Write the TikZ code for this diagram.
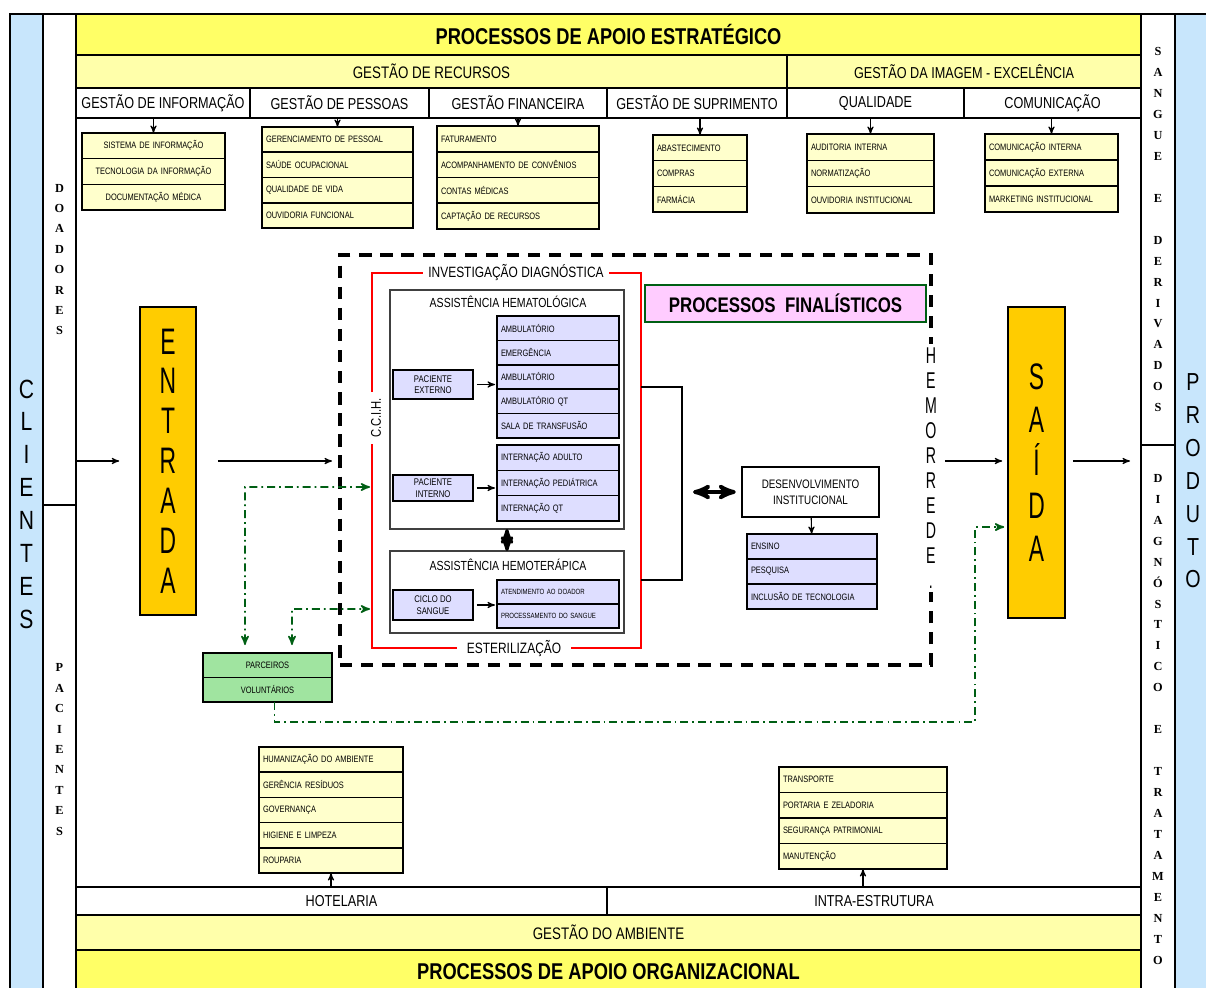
\documentclass[tikz,border=0pt]{standalone}
\usepackage{fontspec}
\setmainfont{Liberation Sans}
\newfontfamily\narrow{Liberation Sans}[FakeStretch=0.8]
\newfontfamily\tall{Liberation Sans}[FakeStretch=0.62]
\newfontfamily\serifb{Liberation Serif}
\usepackage{xcolor}
\usetikzlibrary{arrows}
\usetikzlibrary{positioning}

\definecolor{apoio}{RGB}{255,255,102}
\definecolor{gestao}{RGB}{255,255,170}
\definecolor{lista}{RGB}{255,255,204}
\definecolor{cliente}{RGB}{200,230,252}
\definecolor{laranja}{RGB}{255,204,0}
\definecolor{lilas}{RGB}{222,222,255}
\definecolor{verdeclaro}{RGB}{160,228,160}
\definecolor{rosa}{RGB}{255,204,255}
\definecolor{verdeesc}{RGB}{0,95,20}

\begin{document}
\begin{tikzpicture}[x=0.02cm,y=-0.02cm,>=stealth',semithick]
		\tikzstyle{faixa}=[draw=black,line width=0.9pt,outer sep=0pt,inner sep=0pt,text=black]
		\tikzstyle{lateral}=[draw=black,line width=0.9pt,outer sep=0pt,inner sep=0pt,align=center]
		\tikzstyle{vletra}=[font=\serifb\bfseries\fontsize{7}{11.6}\selectfont]
		\tikzstyle{vletrad}=[font=\serifb\bfseries\fontsize{7}{11.95}\selectfont]
		\tikzstyle{item}=[draw=black,line width=0.9pt,fill=lista,outer sep=0pt,inner xsep=0.08cm,inner ysep=0pt,align=left,font=\narrow\fontsize{5.3}{6.3}\selectfont]
		\tikzstyle{caixa}=[draw=black,line width=1.3pt,fill=lilas,outer sep=0pt,inner sep=0pt,align=center,font=\narrow\fontsize{5.5}{6.5}\selectfont]
		\tikzstyle{titulo}=[fill=white,inner xsep=0.1cm,inner ysep=1pt,font=\narrow\fontsize{8.5}{10}\selectfont]
		\tikzstyle{gline}=[draw=verdeesc,line width=0.9pt,dash pattern=on 4.5pt off 2.3pt on 1pt off 2.3pt]
		\tikzstyle{info}=[item,text width=2.70cm,minimum height=0.513cm,align=center]
		\tikzstyle{pessoa}=[item,text width=2.86cm,minimum height=0.505cm]
		\tikzstyle{financa}=[item,text width=3.08cm,minimum height=0.515cm]
		\tikzstyle{suprim}=[item,text width=1.72cm,minimum height=0.513cm]
		\tikzstyle{quali}=[item,text width=2.38cm,minimum height=0.527cm]
		\tikzstyle{comun}=[item,text width=2.50cm,minimum height=0.52cm]
		\tikzstyle{hemat}=[item,fill=lilas,text width=2.28cm,minimum height=0.488cm]
		\tikzstyle{intern}=[item,fill=lilas,text width=2.28cm,minimum height=0.507cm]
		\tikzstyle{hemot}=[item,fill=lilas,text width=2.28cm,minimum height=0.48cm,font=\narrow\fontsize{4.3}{5}\selectfont]
		\tikzstyle{desenv}=[item,fill=lilas,text width=2.44cm,minimum height=0.5cm]
		\tikzstyle{parc}=[item,fill=verdeclaro,text width=2.42cm,minimum height=0.49cm,align=center]
		\tikzstyle{hotel}=[item,text width=2.72cm,minimum height=0.504cm]
		\tikzstyle{infra}=[item,text width=3.20cm,minimum height=0.51cm]

		\useasboundingbox (0,0) rectangle (1206,987);
		\fill[white] (0,0) rectangle (1206,987);

		% clientes / produto
		\node[lateral,fill=cliente,minimum width=0.66cm,minimum height=19.6cm,font=\narrow\fontsize{15}{18.7}\selectfont] (clientes) at (26.5,504) {C\\L\\I\\E\\N\\T\\E\\S};
		\node[lateral,fill=white,minimum width=0.66cm,minimum height=9.82cm,vletra] (doadores) at (59.5,259.5) {D\\O\\A\\D\\O\\R\\E\\S};
		\node[lateral,fill=white,minimum width=0.66cm,minimum height=9.78cm,vletra] (pacientes) at (59.5,749.5) {P\\A\\C\\I\\E\\N\\T\\E\\S};
		\node[lateral,fill=white,minimum width=0.68cm,minimum height=8.62cm,vletrad] (sangue) at (1158,229.5) {S\\A\\N\\G\\U\\E\\ \\E\\ \\D\\E\\R\\I\\V\\A\\D\\O\\S};
		\node[lateral,fill=white,minimum width=0.68cm,minimum height=10.98cm,vletrad] (diagnostico) at (1158,719.5) {D\\I\\A\\G\\N\\Ó\\S\\T\\I\\C\\O\\ \\E\\ \\T\\R\\A\\T\\A\\M\\E\\N\\T\\O};
		\node[lateral,fill=cliente,minimum width=0.8cm,minimum height=19.6cm] (produto) at (1195,504) {};
		\node[align=center,inner sep=0pt,font=\narrow\fontsize{14}{18.7}\selectfont] (produtotxt) at (1193,481) {P\\R\\O\\D\\U\\T\\O};

		% apoio estrategico
		\node[faixa,fill=apoio] (estrategico) at (608.5,34.5) [minimum width=21.3cm,minimum height=0.82cm,font=\narrow\bfseries\fontsize{13}{15}\selectfont] {PROCESSOS DE APOIO ESTRATÉGICO};
		\node[faixa,fill=gestao] (recursos) at (431.5,71.5) [minimum width=14.22cm,minimum height=0.66cm,font=\narrow\fontsize{9.5}{11}\selectfont] {GESTÃO DE RECURSOS};
		\node[faixa,fill=gestao] (imagem) at (964,71.5) [minimum width=7.08cm,minimum height=0.66cm,font=\narrow\fontsize{9}{11}\selectfont] {GESTÃO DA IMAGEM - EXCELÊNCIA};
		\node[faixa,fill=white] (informacao) at (163,103) [minimum width=3.48cm,minimum height=0.6cm,font=\narrow\fontsize{9}{11}\selectfont] {GESTÃO DE INFORMAÇÃO};
		\node[faixa,fill=white] (pessoas) at (339.5,103) [minimum width=3.58cm,minimum height=0.6cm,font=\narrow\fontsize{9}{11}\selectfont] {GESTÃO DE PESSOAS};
		\node[faixa,fill=white] (financeira) at (518,103) [minimum width=3.56cm,minimum height=0.6cm,font=\narrow\fontsize{9}{11}\selectfont] {GESTÃO FINANCEIRA};
		\node[faixa,fill=white] (suprimento) at (697,103) [minimum width=3.60cm,minimum height=0.6cm,font=\narrow\fontsize{9}{11}\selectfont] {GESTÃO DE SUPRIMENTO};
		\node[faixa,fill=white] (qualidade) at (875.5,103) [minimum width=3.54cm,minimum height=0.6cm,font=\narrow\fontsize{9}{11}\selectfont] {QUALIDADE};
		\node[faixa,fill=white] (comunicacao) at (1052.5,103) [minimum width=3.54cm,minimum height=0.6cm,font=\narrow\fontsize{9}{11}\selectfont] {COMUNICAÇÃO};

		\node[info] (i1) at (82,133) [anchor=north west] {SISTEMA DE INFORMAÇÃO};
		\node[info] (i2)[below=0pt of i1] {TECNOLOGIA DA INFORMAÇÃO};
		\node[info] (i3)[below=0pt of i2] {DOCUMENTAÇÃO MÉDICA};
		\node[pessoa] (p1) at (262,127) [anchor=north west] {GERENCIAMENTO DE PESSOAL};
		\node[pessoa] (p2)[below=0pt of p1] {SAÚDE OCUPACIONAL};
		\node[pessoa] (p3)[below=0pt of p2] {QUALIDADE DE VIDA};
		\node[pessoa] (p4)[below=0pt of p3] {OUVIDORIA FUNCIONAL};
		\node[financa] (f1) at (437,126) [anchor=north west] {FATURAMENTO};
		\node[financa] (f2)[below=0pt of f1] {ACOMPANHAMENTO DE CONVÊNIOS};
		\node[financa] (f3)[below=0pt of f2] {CONTAS MÉDICAS};
		\node[financa] (f4)[below=0pt of f3] {CAPTAÇÃO DE RECURSOS};
		\node[suprim] (s1) at (653,135) [anchor=north west] {ABASTECIMENTO};
		\node[suprim] (s2)[below=0pt of s1] {COMPRAS};
		\node[suprim] (s3)[below=0pt of s2] {FARMÁCIA};
		\node[quali] (q1) at (807,134) [anchor=north west] {AUDITORIA INTERNA};
		\node[quali] (q2)[below=0pt of q1] {NORMATIZAÇÃO};
		\node[quali] (q3)[below=0pt of q2] {OUVIDORIA INSTITUCIONAL};
		\node[comun] (c1) at (985,134) [anchor=north west] {COMUNICAÇÃO INTERNA};
		\node[comun] (c2)[below=0pt of c1] {COMUNICAÇÃO EXTERNA};
		\node[comun] (c3)[below=0pt of c2] {MARKETING INSTITUCIONAL};

		% processos finalisticos
		\node[draw=black,line width=2.2pt,dash pattern=on 7pt off 5pt,minimum width=11.82cm,minimum height=8.2cm,outer sep=0pt] (finalistico) at (635.5,460) {};
		\node[fill=white,inner xsep=1pt,inner ysep=2pt,align=center,font=\tall\fontsize{13}{14.2}\selectfont] (hemorrede) at (finalistico.east |- 0,468) {H\\E\\M\\O\\R\\R\\E\\D\\E\\.};
		\node[draw=verdeesc,line width=1.2pt,fill=rosa,minimum width=5.62cm,minimum height=0.74cm,inner sep=0pt,font=\narrow\bfseries\fontsize{12}{14}\selectfont] (titulofin) at (785.5,303.5) {PROCESSOS\ \ FINALÍSTICOS};
		\node[draw=red,line width=1.2pt,minimum width=5.38cm,minimum height=7.5cm,outer sep=0pt] (ester) at (506.5,460.5) {};
		\node[titulo] (investig) at (516,273) {INVESTIGAÇÃO DIAGNÓSTICA};
		\node[titulo,inner xsep=0.2cm] (esteriliz) at (514,649) {ESTERILIZAÇÃO};
		\node[titulo,rotate=90,inner xsep=0.12cm,font=\narrow\fontsize{8}{10}\selectfont] (ccih) at (376,418) {C.C.I.H.};

		\node[draw=black!75,line width=1.4pt,minimum width=4.68cm,minimum height=4.78cm,outer sep=0pt] (hematologica) at (507,409.5) {};
		\node[font=\narrow\fontsize{7.5}{9}\selectfont,inner sep=1pt] (tithemat) at (508,302) {ASSISTÊNCIA HEMATOLÓGICA};
		\node[draw=black!75,line width=1.4pt,minimum width=4.68cm,minimum height=1.64cm,outer sep=0pt] (hemoterapica) at (507,592) {};
		\node[font=\narrow\fontsize{7.5}{9}\selectfont,inner sep=1pt] (tithemot) at (508,565) {ASSISTÊNCIA HEMOTERÁPICA};

		\node[caixa,minimum width=1.6cm,minimum height=0.58cm] (externo) at (433,384.5) {PACIENTE\\EXTERNO};
		\node[caixa,minimum width=1.6cm,minimum height=0.52cm] (interno) at (433,488) {PACIENTE\\INTERNO};
		\node[caixa,minimum width=1.6cm,minimum height=0.6cm] (ciclo) at (433,605) {CICLO DO\\SANGUE};

		\node[hemat] (a1) at (497,316) [anchor=north west] {AMBULATÓRIO};
		\node[hemat] (a2)[below=0pt of a1] {EMERGÊNCIA};
		\node[hemat] (a3)[below=0pt of a2] {AMBULATÓRIO};
		\node[hemat] (a4)[below=0pt of a3] {AMBULATÓRIO QT};
		\node[hemat] (a5)[below=0pt of a4] {SALA DE TRANSFUSÃO};
		\node[intern] (n1) at (497,445) [anchor=north west] {INTERNAÇÃO ADULTO};
		\node[intern] (n2)[below=0pt of n1] {INTERNAÇÃO PEDIÁTRICA};
		\node[intern] (n3)[below=0pt of n2] {INTERNAÇÃO QT};
		\node[hemot] (t1) at (497,580) [anchor=north west] {ATENDIMENTO AO DOADOR};
		\node[hemot] (t2)[below=0pt of t1] {PROCESSAMENTO DO SANGUE};

		\node[draw=black,line width=1.4pt,fill=white,minimum width=2.74cm,minimum height=1.0cm,inner sep=0pt,align=center,font=\narrow\fontsize{7}{9}\selectfont] (desenvolvimento) at (810.5,492) {DESENVOLVIMENTO\\INSTITUCIONAL};
		\node[desenv] (d1) at (747,534) [anchor=north west] {ENSINO};
		\node[desenv] (d2)[below=0pt of d1] {PESQUISA};
		\node[desenv] (d3)[below=0pt of d2] {INCLUSÃO DE TECNOLOGIA};

		% entrada e saida
		\node[draw=black,line width=0.9pt,fill=laranja,minimum width=1.12cm,minimum height=6.16cm,align=center,font=\tall\fontsize{21}{22.7}\selectfont] (entrada) at (168,461) {E\\N\\T\\R\\A\\D\\A};
		\node[draw=black,line width=0.9pt,fill=laranja,minimum width=1.14cm,minimum height=6.22cm,align=center,font=\tall\fontsize{21}{24.5}\selectfont] (saida) at (1036.5,462.5) {S\\A\\Í\\D\\A};

		\node[parc] (v1) at (203,653) [anchor=north west] {PARCEIROS};
		\node[parc] (v2)[below=0pt of v1] {VOLUNTÁRIOS};

		% apoio organizacional
		\node[hotel] (h1) at (259,747) [anchor=north west] {HUMANIZAÇÃO DO AMBIENTE};
		\node[hotel] (h2)[below=0pt of h1] {GERÊNCIA RESÍDUOS};
		\node[hotel] (h3)[below=0pt of h2] {GOVERNANÇA};
		\node[hotel] (h4)[below=0pt of h3] {HIGIENE E LIMPEZA};
		\node[hotel] (h5)[below=0pt of h4] {ROUPARIA};
		\node[infra] (e1) at (779,767) [anchor=north west] {TRANSPORTE};
		\node[infra] (e2)[below=0pt of e1] {PORTARIA E ZELADORIA};
		\node[infra] (e3)[below=0pt of e2] {SEGURANÇA PATRIMONIAL};
		\node[infra] (e4)[below=0pt of e3] {MANUTENÇÃO};

		\node[faixa,fill=white] (hotelaria) at (341.5,901) [minimum width=10.62cm,minimum height=0.56cm,font=\narrow\fontsize{9}{11}\selectfont] {HOTELARIA};
		\node[faixa,fill=white] (estrutura) at (874,901) [minimum width=10.68cm,minimum height=0.56cm,font=\narrow\fontsize{9}{11}\selectfont] {INTRA-ESTRUTURA};
		\node[faixa,fill=gestao] (ambiente) at (608.5,932.5) [minimum width=21.3cm,minimum height=0.7cm,font=\narrow\fontsize{9.5}{11}\selectfont] {GESTÃO DO AMBIENTE};
		\node[faixa,fill=apoio] (organizacional) at (608.5,971.5) [minimum width=21.3cm,minimum height=0.86cm,font=\narrow\bfseries\fontsize{13}{15}\selectfont] {PROCESSOS DE APOIO ORGANIZACIONAL};

		% setas
		\path[->]
		(informacao.south -| i1.north) edge (i1.north)
		(pessoas.south -| p1.north) edge (p1.north)
		(financeira.south -| f1.north) edge (f1.north)
		(suprimento.south -| s1.north) edge (s1.north)
		(qualidade.south -| q1.north) edge (q1.north)
		(comunicacao.south -| c1.north) edge (c1.north)
		(externo.east) edge[shorten <=0.08cm,shorten >=0.04cm] (externo.east -| a3.west)
		(interno.east) edge[shorten <=0.08cm,shorten >=0.04cm] (interno.east -| n2.west)
		(ciclo.east) edge[shorten <=0.08cm,shorten >=0.04cm] (ciclo.east -| t1.west)
		(desenvolvimento) edge (d1)
		(hotelaria.north -| h5.south) edge (h5.south)
		(estrutura.north -| e4.south) edge (e4.south)
		(doadores.east |- entrada) edge[shorten >=0.4cm] (entrada.west)
		(entrada.east) edge[shorten <=0.42cm,shorten >=0.16cm] (entrada.east -| finalistico.west)
		(finalistico.east |- entrada) edge[shorten <=0.28cm,shorten >=0.1cm] (saida.west |- entrada)
		(saida.east |- entrada) edge[shorten <=0.14cm,shorten >=0.22cm] (diagnostico.west |- entrada);
		\draw[<->,line width=1.8pt] (hematologica) -- (hemoterapica);
		\draw (ester.east |- 0,387) -- (682,387) -- (682,580) -- (ester.east |- 0,580);
		\coordinate (brk) at (693,492);
		\draw[<->,line width=2.2pt,shorten >=0.1cm] (brk) -- (desenvolvimento);

		% parceiros
		\coordinate (ga) at (245,487);
		\coordinate (gb) at (292,609);
		\coordinate (gc) at (975,722);
		\coordinate (gd) at (975,527);
		\draw[gline,<->,shorten <=0.16cm,shorten >=0.04cm] ([xshift=0.84cm]v1.north west) -- (ga) -- (ga -| ester.west);
		\draw[gline,<->,shorten <=0.16cm,shorten >=0.04cm] ([xshift=1.78cm]v1.north west) -- (gb) -- (gb -| ester.west);
		\draw[gline,->,shorten >=0.06cm] ([xshift=0.14cm]v2.south) |- (gc) -- (gd) -- (gd -| saida.west);
	\end{tikzpicture}
\end{document}
